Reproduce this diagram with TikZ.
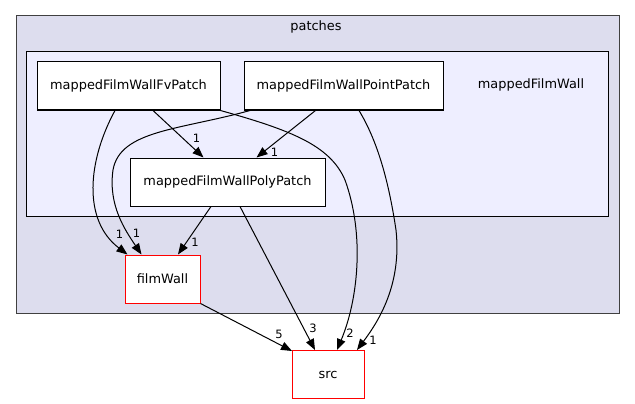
\documentclass[tikz,border=0pt]{standalone}
\usepackage{fontspec}
\setmainfont{DejaVu Sans}
\usetikzlibrary{arrows.meta}
\definecolor{patchfill}{HTML}{DDDDEE}
\definecolor{wallfill}{HTML}{EEEEFF}
\definecolor{clusterline}{HTML}{404040}
\tikzset{
  cluster/.style={draw=black,line width=1pt,inner sep=0pt},
  dirbox/.style={draw=black,fill=white,line width=1pt,minimum height=48pt,inner sep=0pt,font=\fontsize{12.9}{15}\selectfont},
  extbox/.style={dirbox,draw=red},
  dep/.style={-{Triangle[length=11pt,width=8.5pt]},line width=1pt},
  cnt/.style={font=\fontsize{11.5}{13}\selectfont,inner sep=0pt},
}

\begin{document}
\begin{tikzpicture}[x=1pt,y=-1pt]
\useasboundingbox (0,0) rectangle (635,404);
% clusters
\node[cluster,draw=clusterline,fill=patchfill,minimum width=603pt,minimum height=297pt] (patches) at (317.5,164.5) {};
\node[font=\fontsize{12.9}{15}\selectfont] (patcheslbl) at (316,27) {patches};
\node[cluster,fill=wallfill,minimum width=582pt,minimum height=164pt] (wall) at (317,134) {};
\node[font=\fontsize{12.9}{15}\selectfont] (walllbl) at (531,85) {mappedFilmWall};
% directories
\node[dirbox,minimum width=183pt] (fv)    at (128.5,86)  {mappedFilmWallFvPatch};
\node[dirbox,minimum width=199pt] (point) at (343.5,86)  {mappedFilmWallPointPatch};
\node[dirbox,minimum width=195pt] (poly)  at (227.5,182) {mappedFilmWallPolyPatch};
\node[extbox,minimum width=75pt]  (film)  at (162.5,279) {filmWall};
\node[extbox,minimum width=72pt]  (src)   at (328,374.5) {src};
% dependencies
\draw[dep] ([xshift=24.5pt]fv.south) -- ([xshift=-24pt]poly.north)
  node[cnt,at end,xshift=-7pt,yshift=19pt] {1};
\draw[dep] ([xshift=-28pt]point.south) -- ([xshift=29pt]poly.north)
  node[cnt,at end,xshift=18pt,yshift=5pt] {1};
\draw[dep] ([xshift=-13.5pt]fv.south) .. controls (88,160) and (82,220) .. ([xshift=-35pt]film.north)
  node[cnt,at end,xshift=-8pt,yshift=20pt] {1};
\draw[dep] ([xshift=-93.5pt]point.south) .. controls (180,130) and (120,130) .. (113,170)
  .. controls (108,205) and (125,230) .. ([xshift=-21pt]film.north)
  node[cnt,at end,xshift=-5pt,yshift=21pt] {1};
\draw[dep] ([xshift=-16.5pt]poly.south) -- ([xshift=15.5pt]film.north)
  node[cnt,at end,xshift=17pt,yshift=12pt] {1};
\draw[dep] ([xshift=12.5pt]poly.south) -- ([xshift=-13pt]src.north)
  node[cnt,at end,xshift=-2pt,yshift=22pt] {3};
\draw[dep] (fv.south east) .. controls (290,130) and (330,145) .. (345,180)
  .. controls (365,235) and (358,300) .. ([xshift=9pt]src.north)
  node[cnt,at end,xshift=13pt,yshift=17pt] {2};
\draw[dep] ([xshift=15.5pt]point.south) .. controls (380,145) and (390,190) .. (396,230)
  .. controls (402,285) and (378,322) .. ([xshift=29pt]src.north)
  node[cnt,at end,xshift=16pt,yshift=10pt] {1};
\draw[dep] (film.south east) -- ([xshift=-36pt,yshift=-1pt]src.north)
  node[cnt,at end,xshift=-13pt,yshift=17pt] {5};
\end{tikzpicture}
\end{document}
